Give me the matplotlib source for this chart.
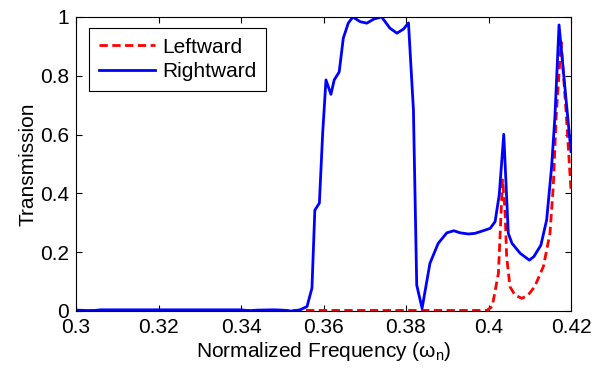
import matplotlib
matplotlib.use("Agg")
import matplotlib.pyplot as plt

plt.rcParams['font.family'] = ['Liberation Sans', 'DejaVu Sans']
plt.rcParams['mathtext.default'] = 'regular'

# Rightward (blue) transmission
right_x = [0.300, 0.302, 0.304, 0.306, 0.310, 0.320, 0.330, 0.340, 0.342, 0.344,
           0.348, 0.350, 0.352, 0.353, 0.3543, 0.3560, 0.3572, 0.3579, 0.3590, 0.3598,
           0.3606, 0.3618, 0.3626, 0.3638, 0.3648, 0.3660, 0.3671, 0.3689, 0.3705, 0.3722,
           0.3741, 0.3761, 0.3778, 0.3794, 0.3806, 0.3818, 0.3826, 0.3839, 0.3858, 0.3878,
           0.3899, 0.3916, 0.3931, 0.3951, 0.3967, 0.3987, 0.4004, 0.4016, 0.4026, 0.4037,
           0.4048, 0.4057, 0.4077, 0.4099, 0.4110, 0.4127, 0.4141, 0.4153, 0.4161, 0.4171,
           0.4188, 0.4200]
right_y = [0.003, 0.002, 0.001, 0.004, 0.004, 0.004, 0.004, 0.004, 0.001, 0.003,
           0.004, 0.003, 0.000, 0.001, 0.004, 0.015, 0.078, 0.343, 0.367, 0.605,
           0.786, 0.737, 0.786, 0.813, 0.928, 0.979, 1.000, 0.984, 0.979, 0.993,
           1.000, 0.962, 0.945, 0.959, 0.980, 0.684, 0.088, 0.009, 0.162, 0.230,
           0.266, 0.273, 0.266, 0.262, 0.264, 0.273, 0.281, 0.304, 0.395, 0.601,
           0.264, 0.230, 0.196, 0.173, 0.185, 0.224, 0.310, 0.491, 0.661, 0.973,
           0.719, 0.542]

# Leftward (red) transmission
left_x = [0.300, 0.350, 0.3996, 0.4009, 0.4024, 0.4034, 0.4040, 0.4044, 0.4052, 0.4064,
          0.4081, 0.4096, 0.4112, 0.4133, 0.4149, 0.4157, 0.4164, 0.4176, 0.4188, 0.4200]
left_y = [0.002, 0.002, 0.002, 0.015, 0.128, 0.446, 0.344, 0.185, 0.083, 0.054,
          0.043, 0.054, 0.083, 0.151, 0.264, 0.423, 0.661, 0.915, 0.680, 0.410]

xticks = [0.30, 0.32, 0.34, 0.36, 0.38, 0.40, 0.42]
xticklabels = ['0.3', '0.32', '0.34', '0.36', '0.38', '0.4', '0.42']
yticks = [0, 0.2, 0.4, 0.6, 0.8, 1.0]
yticklabels = ['0', '0.2', '0.4', '0.6', '0.8', '1']

fig = plt.figure(figsize=(6.04, 3.74), dpi=100)
ax = fig.add_axes([76/604, 1-311/374, (571-76)/604, (311-17)/374])

ax.plot(left_x, left_y, color='#ff0000', lw=2, dashes=[3, 1.6], label='Leftward')
ax.plot(right_x, right_y, color='#0000ff', lw=2, label='Rightward')

ax.set_xlim(0.3, 0.42)
ax.set_ylim(0, 1)
ax.set_xticks(xticks)
ax.set_xticklabels(xticklabels)
ax.set_yticks(yticks)
ax.set_yticklabels(yticklabels)
ax.tick_params(direction='in', top=True, right=True, labelsize=15, length=4, width=0.8, pad=5)
for s in ax.spines.values():
    s.set_linewidth(0.8)

ax.set_xlabel(r'Normalized Frequency ($\omega_n$)', fontsize=15, labelpad=2)
ax.set_ylabel('Transmission', fontsize=15, labelpad=2)

leg = ax.legend(loc='upper left', bbox_to_anchor=(0.027, 0.962), fontsize=15,
                handlelength=2.7, fancybox=False, edgecolor='black', framealpha=1,
                borderaxespad=0, borderpad=0.45, labelspacing=0.28, handletextpad=0.35)
leg.get_frame().set_linewidth(0.8)

fig.savefig('out.png', dpi=100)
